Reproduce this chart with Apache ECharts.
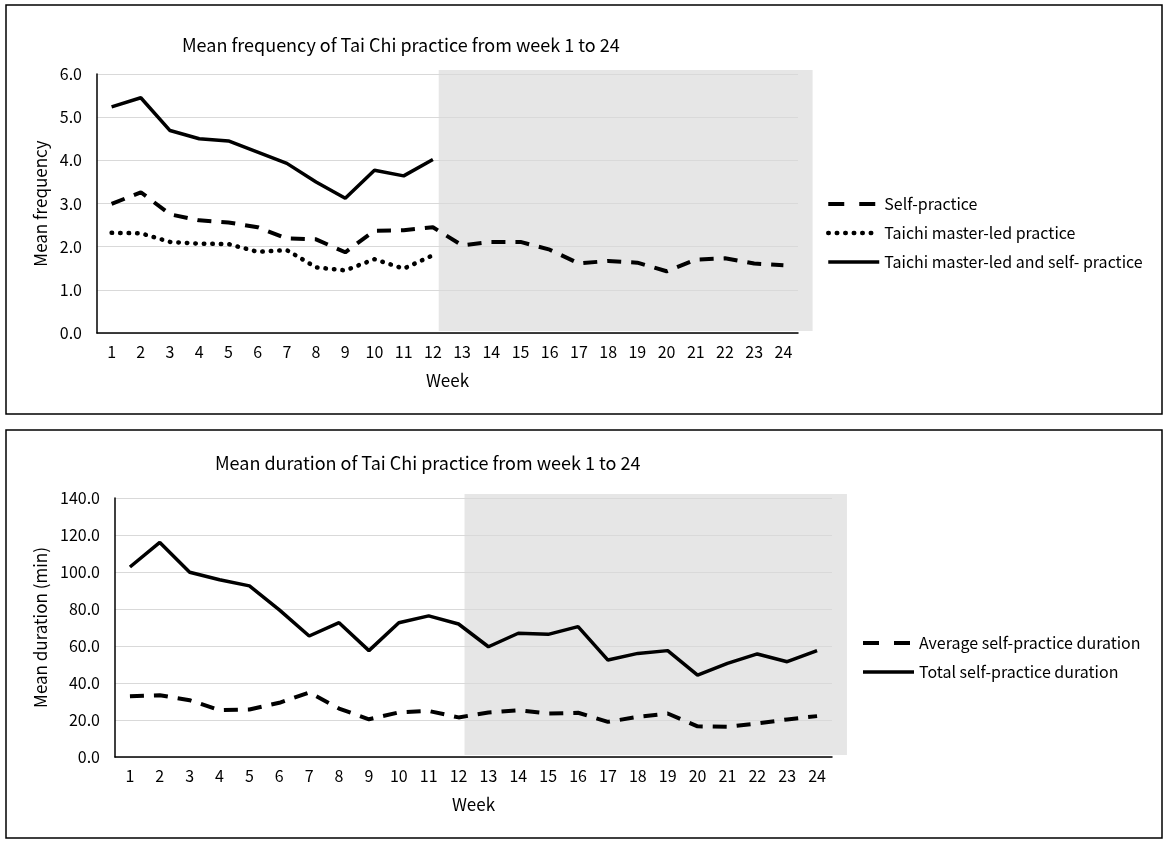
<!DOCTYPE html>
<html>
<head>
<meta charset="utf-8">
<script src="https://cdn.jsdelivr.net/npm/echarts@6/dist/echarts.min.js"></script>
<style>
  html, body { margin: 0; padding: 0; background: #fff; }
  #main { width: 1170px; height: 847px; }
</style>
</head>
<body>
<div id="main"></div>
<script>
// week labels, shared by both panels
var weeks = [1, 2, 3, 4, 5, 6, 7, 8, 9, 10, 11, 12, 13, 14, 15, 16, 17, 18, 19, 20, 21, 22, 23, 24];

// panel 1: mean frequency
var selfFreq = [2.99, 3.26, 2.75, 2.61, 2.56, 2.45, 2.19, 2.17, 1.87, 2.37, 2.38, 2.45,
	2.03, 2.11, 2.11, 1.93, 1.61, 1.67, 1.63, 1.43, 1.70, 1.73, 1.61, 1.57];
var masterFreq = [2.32, 2.31, 2.11, 2.07, 2.06, 1.88, 1.92, 1.52, 1.45, 1.71, 1.49, 1.80];
var bothFreq = [5.24, 5.45, 4.69, 4.50, 4.45, 4.19, 3.93, 3.50, 3.12, 3.77, 3.64, 4.02];

// panel 2: mean duration (min)
var avgDur = [32.9, 33.4, 30.7, 25.3, 25.7, 29.3, 34.9, 26.2, 20.4, 24.1, 24.9, 21.4,
	24.1, 25.3, 23.5, 23.9, 19.0, 21.7, 23.5, 16.6, 16.3, 18.1, 20.3, 22.1];
var totalDur = [102.7, 116.0, 99.9, 95.8, 92.5, 79.5, 65.4, 72.6, 57.5, 72.6, 76.3, 71.9,
	59.6, 66.9, 66.3, 70.5, 52.4, 56.0, 57.5, 44.3, 50.6, 55.7, 51.5, 57.5];

var FONT = 'Noto Sans CJK SC';
var dashed = [14, 10];
var dotted = [0.5, 8];

var chart = echarts.init(document.getElementById('main'));

function xAxisFor(gi) {
	return {
		type: 'category',
		gridIndex: gi,
		data: weeks,
		boundaryGap: true,
		name: 'Week',
		nameLocation: 'middle',
		nameGap: 39,
		nameTextStyle: { color: '#000', fontSize: 17, fontFamily: FONT },
		axisLine: { lineStyle: { color: '#000', width: 1.5 } },
		axisTick: { show: false },
		axisLabel: { color: '#000', fontSize: 16, fontFamily: FONT, margin: 11, interval: 0 },
		splitLine: { show: false }
	};
}

function yAxisFor(gi, max, interval, name, gap) {
	return {
		type: 'value',
		gridIndex: gi,
		min: 0,
		max: max,
		interval: interval,
		name: name,
		nameLocation: 'middle',
		nameGap: gap,
		nameTextStyle: { color: '#000', fontSize: 17, fontFamily: FONT },
		axisLine: { show: true, lineStyle: { color: '#000', width: 1.5 } },
		axisTick: { show: false },
		axisLabel: {
			color: '#000', fontSize: 16, fontFamily: FONT, margin: 15,
			formatter: function(v) { return v.toFixed(1); }
		},
		splitLine: { lineStyle: { color: '#d9d9d9', width: 1.2 } }
	};
}

function legendFor(left, top, items) {
	return {
		orient: 'vertical',
		left: left,
		top: top,
		padding: 0,
		itemWidth: 51,
		itemHeight: 14,
		itemGap: 13,
		itemStyle: { color: 'rgba(0,0,0,0)', borderWidth: 0 },
		textStyle: { color: '#000', fontSize: 16, fontFamily: FONT },
		data: items
	};
}

var option = {
	animation: false,
	backgroundColor: '#fff',
	color: ['#000'],
	title: [{
		text: 'Mean frequency of Tai Chi practice from week 1 to 24',
		left: 177,
		top: 31,
		textStyle: { color: '#000', fontSize: 18, fontWeight: 'normal', fontFamily: FONT }
	}, {
		text: 'Mean duration of Tai Chi practice from week 1 to 24',
		left: 210,
		top: 449,
		textStyle: { color: '#000', fontSize: 18, fontWeight: 'normal', fontFamily: FONT }
	}],
	legend: [
		legendFor(826, 196, [
			{ name: 'Self-practice', lineStyle: { color: '#000', width: 4, type: [16, 15] } },
			{ name: 'Taichi master-led practice', lineStyle: { color: '#000', width: 4.5, type: dotted, cap: 'round' } },
			{ name: 'Taichi master-led and self- practice', lineStyle: { color: '#000', width: 3.5, type: 'solid' } }
		]),
		legendFor(861, 635, [
			{ name: 'Average self-practice duration', lineStyle: { color: '#000', width: 4, type: [16, 15] } },
			{ name: 'Total self-practice duration', lineStyle: { color: '#000', width: 3.5, type: 'solid' } }
		])
	],
	grid: [
		{ left: 97, top: 74, width: 701, height: 259 },
		{ left: 115, top: 498, width: 717, height: 259 }
	],
	xAxis: [xAxisFor(0), xAxisFor(1)],
	yAxis: [
		yAxisFor(0, 6, 1, 'Mean frequency', 47),
		yAxisFor(1, 140, 20, 'Mean duration (min)', 64)
	],
	series: [{
		name: 'Self-practice',
		type: 'line',
		xAxisIndex: 0, yAxisIndex: 0,
		data: selfFreq,
		symbol: 'none',
		itemStyle: { color: '#000' },
		lineStyle: { color: '#000', width: 4, type: dashed }
	}, {
		name: 'Taichi master-led practice',
		type: 'line',
		xAxisIndex: 0, yAxisIndex: 0,
		data: masterFreq,
		symbol: 'none',
		itemStyle: { color: '#000' },
		lineStyle: { color: '#000', width: 4.5, type: dotted, cap: 'round' }
	}, {
		name: 'Taichi master-led and self- practice',
		type: 'line',
		xAxisIndex: 0, yAxisIndex: 0,
		data: bothFreq,
		symbol: 'none',
		itemStyle: { color: '#000' },
		lineStyle: { color: '#000', width: 3.5 }
	}, {
		name: 'Average self-practice duration',
		type: 'line',
		xAxisIndex: 1, yAxisIndex: 1,
		data: avgDur,
		symbol: 'none',
		itemStyle: { color: '#000' },
		lineStyle: { color: '#000', width: 4, type: dashed }
	}, {
		name: 'Total self-practice duration',
		type: 'line',
		xAxisIndex: 1, yAxisIndex: 1,
		data: totalDur,
		symbol: 'none',
		itemStyle: { color: '#000' },
		lineStyle: { color: '#000', width: 3.5 }
	}]
};

chart.setOption(option);

// grey shading for weeks 13-24 and the two panel frames
function shade(gi, top) {
	var a = chart.convertToPixel({ gridIndex: gi }, [11, top]);
	var b = chart.convertToPixel({ gridIndex: gi }, [12, 0]);
	var step = b[0] - a[0];
	var endX = chart.convertToPixel({ gridIndex: gi }, [23, 0])[0] + step;
	return {
		type: 'rect',
		z: -10,
		silent: true,
		shape: { x: a[0] + step * 0.2, y: a[1] - 4, width: endX - a[0] - step * 0.2, height: b[1] - a[1] + 2 },
		style: { fill: '#e6e6e6' }
	};
}

chart.setOption({
	graphic: [
		shade(0, 6),
		shade(1, 140),
		{ type: 'rect', silent: true, shape: { x: 6, y: 5, width: 1156, height: 409 },
			style: { fill: null, stroke: '#000', lineWidth: 1.5 } },
		{ type: 'rect', silent: true, shape: { x: 6, y: 430, width: 1156, height: 408 },
			style: { fill: null, stroke: '#000', lineWidth: 1.5 } }
	]
});
</script>
</body>
</html>
